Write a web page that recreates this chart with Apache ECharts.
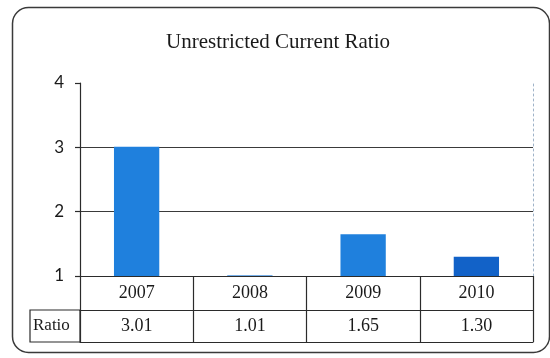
<!DOCTYPE html>
<html>
<head>
<meta charset="utf-8">
<script src="https://cdn.jsdelivr.net/npm/echarts@6/dist/echarts.min.js"></script>
<style>
  html, body { margin: 0; padding: 0; background: #ffffff; }
  #chart { width: 550px; height: 358px; }
</style>
</head>
<body>
<div id="chart"></div>
<script>
// Unrestricted current ratio by fiscal year
const years = ['2007', '2008', '2009', '2010'];
const ratios = [3.01, 1.01, 1.65, 1.30];
const barColors = ['#1f80dd', '#4a95e0', '#1f80dd', '#1262c8'];
const yTicks = [1, 2, 3, 4];
const rowHeader = 'Ratio';
const titleText = 'Unrestricted Current Ratio';

const chart = echarts.init(document.getElementById('chart'), null, { renderer: 'canvas' });

const serif = '"Liberation Serif", "Times New Roman", serif';
const lineColor = '#2b2b2b';

// grid box (pixels)
const G = { left: 80, right: 17, top: 83, bottom: 82 };
const rowH = 34;     // year row
const rowH2 = 32;    // value row

const option = {
  backgroundColor: '#ffffff',
  animation: false,
  title: {
    text: titleText,
    left: 273,
    top: 27,
    textAlign: 'center',
    textStyle: { fontFamily: serif, fontSize: 21, fontWeight: 'normal', color: '#1a1a1a' }
  },
  grid: { left: G.left, right: G.right, top: G.top, bottom: G.bottom },
  xAxis: [
    {
      type: 'category',
      data: years,
      position: 'bottom',
      axisLine: { show: true, lineStyle: { color: lineColor, width: 1.2 } },
      axisTick: { show: true, length: rowH + rowH2, interval: 0, lineStyle: { color: lineColor, width: 1.2 } },
      axisLabel: {
        margin: rowH / 2, verticalAlign: 'middle',
        fontFamily: serif, fontSize: 18, color: '#1a1a1a'
      }
    },
    {
      type: 'category',
      data: years,
      position: 'bottom',
      offset: rowH,
      axisLine: { show: true, lineStyle: { color: lineColor, width: 1.2 } },
      axisTick: { show: false },
      axisLabel: {
        margin: rowH2 / 2, verticalAlign: 'middle',
        fontFamily: serif, fontSize: 18, color: '#1a1a1a',
        formatter: (v, i) => ratios[i].toFixed(2)
      }
    },
    {
      type: 'category',
      data: years,
      position: 'bottom',
      offset: rowH + rowH2,
      axisLine: { show: true, lineStyle: { color: lineColor, width: 1.2 } },
      axisTick: { show: false },
      axisLabel: { show: false }
    }
  ],
  yAxis: [
    {
      type: 'value',
      min: yTicks[0],
      max: yTicks[yTicks.length - 1],
      interval: 1,
      axisLine: { show: true, lineStyle: { color: lineColor, width: 1.2 } },
      axisTick: { show: true, length: 5, lineStyle: { color: lineColor, width: 1.2 } },
      axisLabel: { margin: 16, fontFamily: '"Lato", "Open Sans", sans-serif', fontSize: 17, color: '#1a1a1a' },
      splitLine: { show: true, showMinLine: false, showMaxLine: false, lineStyle: { color: '#3a3a3a', width: 1.2 } }
    },
    {
      type: 'value',
      position: 'right',
      min: yTicks[0],
      max: yTicks[yTicks.length - 1],
      interval: 1,
      axisLine: { show: true, lineStyle: { color: '#9fb3c8', width: 1, type: [2, 3] } },
      axisTick: { show: false },
      axisLabel: { show: false },
      splitLine: { show: false }
    }
  ],
  series: [
    {
      type: 'bar',
      xAxisIndex: 0,
      yAxisIndex: 0,
      barWidth: '40%',
      data: ratios.map((v, i) => ({ value: v, itemStyle: { color: barColors[i] } }))
    }
  ],
  graphic: [
    // outer rounded frame
    {
      type: 'rect',
      shape: { x: 12.5, y: 7.5, width: 537, height: 345, r: 16 },
      style: { fill: 'none', stroke: '#3a3a3a', lineWidth: 1.5 },
      silent: true,
      z: 0
    },
    // row header cell
    {
      type: 'rect',
      shape: { x: 30, y: 358 - G.bottom + rowH, width: G.left - 30, height: rowH2 },
      style: { fill: 'none', stroke: lineColor, lineWidth: 1.2 },
      silent: true
    },
    {
      type: 'text',
      x: 33,
      y: 358 - G.bottom + rowH + rowH2 / 2,
      style: { text: rowHeader, fontFamily: serif, fontSize: 17, fill: '#1a1a1a', verticalAlign: 'middle', align: 'left' },
      silent: true
    }
  ]
};

chart.setOption(option);
</script>
</body>
</html>
